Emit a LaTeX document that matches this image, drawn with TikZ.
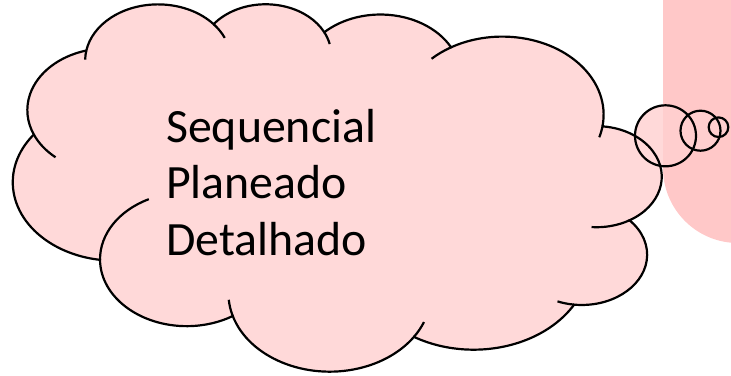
\documentclass[tikz,border=0pt]{standalone}
\usepackage{fontspec}
\setmainfont{Carlito}
\definecolor{cloudpink}{RGB}{255,208,208}
\definecolor{rectpink}{RGB}{255,200,200}
\tikzset{
  outline/.style={draw=black,line width=2.2pt},
  txt/.style={anchor=base west,inner sep=0pt,font=\fontsize{47.8}{57}\selectfont},
  cloudshape/.style={insert path={
    (602.68,-125.24) coordinate (j0)
    arc[x radius=101.32, y radius=78.115, start angle=-7.75,  end angle=120.36] coordinate (j1)
    arc[x radius=80.02,  y radius=61.77,  start angle=27.98,  end angle=134.54] coordinate (j2)
    arc[x radius=65.49,  y radius=50.53,  start angle=26.51,  end angle=142.68] coordinate (j3)
    arc[x radius=72.87,  y radius=56.06,  start angle=40.30,  end angle=169.79] coordinate (j4)
    arc[x radius=80.02,  y radius=61.82,  start angle=105.23, end angle=203.21] coordinate (j5)
    arc[x radius=101.65, y radius=78.37,  start angle=142.47, end angle=261.86] coordinate (j6)
    arc[x radius=86.80,  y radius=66.87,  start angle=180.46, end angle=301.97] coordinate (j7)
    arc[x radius=101.31, y radius=78.33,  start angle=196.84, end angle=326.23] coordinate (j8)
    arc[x radius=115.83, y radius=89.62,  start angle=238.98, end angle=330.18] coordinate (j9)
    arc[x radius=65.42,  y radius=50.30,  start angle=263.31, end angle=403.11] coordinate (j10)
    arc[x radius=65.19,  y radius=50.53,  start angle=300.35, end angle=444.11] -- cycle}}
}
\begin{document}
\begin{tikzpicture}[x=1pt,y=1pt]
\useasboundingbox (0,0) rectangle (731,-375);
% pink panel at the right edge
\fill[rectpink] (663,0) -- (663,-168) arc[start angle=180,end angle=270,radius=75] -- (731,-243) -- (731,0) -- cycle;
% fills of cloud and bubbles
\begin{scope}[transparency group,opacity=0.8]
  \fill[cloudpink,cloudshape];
  \fill[cloudpink] (665.5,-135.8) circle[radius=30.5];
  \fill[cloudpink] (700.5,-130.7) circle[radius=20];
  \fill[cloudpink] (718.5,-127.2) circle[radius=9.8];
\end{scope}
% outlines
\path[outline,cloudshape];
\draw[outline] (665.5,-135.8) circle[radius=30.5];
\draw[outline] (700.5,-130.7) circle[radius=20];
\draw[outline] (718.5,-127.2) circle[radius=9.8];
% inner strokes of the cloud
\draw[outline] (j10) arc[x radius=65.19,  y radius=50.53, start angle=300.35, end angle=265.55];
\draw[outline] (j9)  arc[x radius=65.42,  y radius=50.30, start angle=263.31, end angle=248.24];
\draw[outline] (j8)  arc[x radius=101.31, y radius=78.33, start angle=326.23, end angle=338.48];
\draw[outline] (j7)  arc[x radius=101.31, y radius=78.33, start angle=196.84, end angle=184.74];
\draw[outline] (j6)  arc[x radius=86.80,  y radius=66.87, start angle=180.46, end angle=115.97];
\draw[outline] (j5)  arc[x radius=80.02,  y radius=61.82, start angle=203.21, end angle=229.64];
\draw[outline] (j4)  arc[x radius=72.87,  y radius=56.06, start angle=169.79, end angle=179.18];
\draw[outline] (j3)  arc[x radius=72.87,  y radius=56.06, start angle=40.30,  end angle=23.71];
\draw[outline] (j2)  arc[x radius=65.49,  y radius=50.53, start angle=26.51,  end angle=12.27];
\draw[outline] (j1)  arc[x radius=101.32, y radius=78.115, start angle=120.36, end angle=134.26];
\draw[outline] (j0)  arc[x radius=101.32, y radius=78.115, start angle=-7.75,  end angle=-16.80];
% text
\node[txt] (l1) at (166,-142) {Sequencial};
\node[txt] (l2) at (166,-198.5) {Planeado};
\node[txt] (l3) at (166,-255) {Detalhado};
\end{tikzpicture}
\end{document}
